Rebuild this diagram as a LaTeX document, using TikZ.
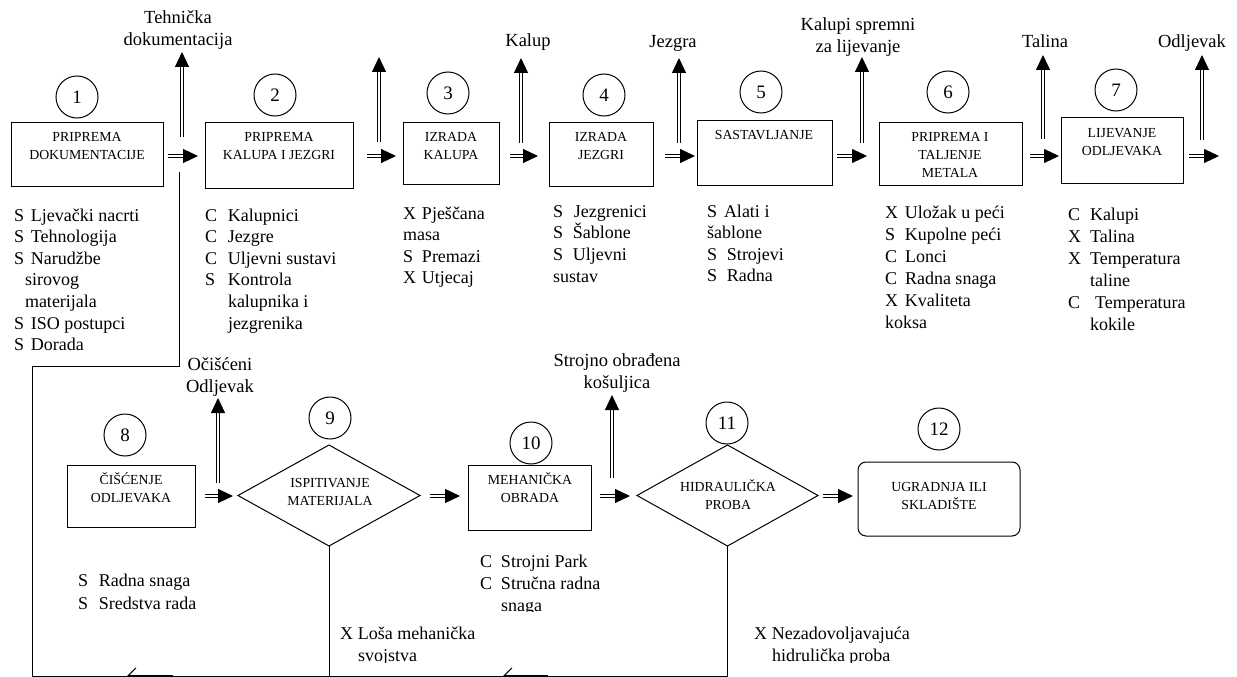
\documentclass[tikz,border=0pt]{standalone}
\usepackage{fontspec}
\setmainfont{Liberation Serif}
\usetikzlibrary{arrows.meta,shapes.geometric,calc}

% left-aligned label of fixed width (width in pt, then the letter)
\newcommand{\mk}[2]{\makebox[#1pt][l]{#2}}
% stacked lines whose baseline is the first line
\newcommand{\ctab}[1]{\begin{tabular}[t]{@{}c@{}}#1\end{tabular}}
\newcommand{\ltab}[1]{\begin{tabular}[t]{@{}l@{}}#1\end{tabular}}

\begin{document}
\begin{tikzpicture}[x=1pt,y=-1pt,
  every node/.style={inner sep=0pt, outer sep=0pt},
  stage/.style={draw, line width=1pt, rectangle},
  decision/.style={draw, line width=1pt, diamond},
  numc/.style={draw, line width=1pt, circle, minimum size=42pt, font=\fontsize{19}{22}\selectfont},
  boxtxt/.style={anchor=base, font=\fontsize{13.8}{18}\selectfont},
  lst/.style={anchor=base west, font=\fontsize{18}{21.6}\selectfont},
  outtxt/.style={anchor=base, font=\fontsize{18.5}{22}\selectfont},
  flow/.style={double, double distance=2.2pt, line width=1pt, -{Triangle[length=15pt,width=14pt]}},
  fb/.style={line width=1pt},
  backtip/.style={line width=2pt, -{Straight Barb[length=8pt,width=16pt,line width=1.2pt]}}
]
\useasboundingbox (0,0) rectangle (1237,677);
\clip (0,0) rectangle (1237,677);

% ---------- upper row of stages ----------
\node[stage, minimum width=152pt, minimum height=64pt] (b1) at (87,154) {};
\node[stage, minimum width=148pt, minimum height=66pt] (b2) at (279,155) {};
\node[stage, minimum width=96pt,  minimum height=62pt] (b3) at (451,153) {};
\node[stage, minimum width=104pt, minimum height=64pt] (b4) at (601,154) {};
\node[stage, minimum width=135pt, minimum height=65pt] (b5) at (764.5,152.5) {};
\node[stage, minimum width=143pt, minimum height=63pt] (b6) at (950.5,153.5) {};
\node[stage, minimum width=122pt, minimum height=66pt] (b7) at (1122,150) {};

\node[boxtxt] (t1) at (87,141.5)   {\ctab{PRIPREMA\\DOKUMENTACIJE}};
\node[boxtxt] (t2) at (279,141.5)  {\ctab{PRIPREMA\\KALUPA I JEZGRI}};
\node[boxtxt] (t3) at (451,141.5)  {\ctab{IZRADA\\KALUPA}};
\node[boxtxt] (t4) at (601,141.5)  {\ctab{IZRADA\\JEZGRI}};
\node[boxtxt] (t5) at (764,139.5)  {\ctab{SASTAVLJANJE}};
\node[boxtxt] (t6) at (950,141.5)  {\ctab{PRIPREMA I\\TALJENJE\\METALA}};
\node[boxtxt] (t7) at (1122,137.5) {\ctab{LIJEVANJE\\ODLJEVAKA}};

\node[numc] (n1) at (77,97)   {1};
\node[numc] (n2) at (275,95)  {2};
\node[numc] (n3) at (448,93)  {3};
\node[numc] (n4) at (604,95)  {4};
\node[numc] (n5) at (761,92)  {5};
\node[numc] (n6) at (948,92)  {6};
\node[numc] (n7) at (1116,90) {7};

% ---------- lower row of stages ----------
\node[stage, minimum width=128pt, minimum height=62pt] (b8) at (131,496) {};
\node[decision, minimum width=182pt, minimum height=101pt] (d9) at (329,495.5) {};
\node[stage, minimum width=123pt, minimum height=65pt] (b10) at (529.5,497.5) {};
\node[decision, minimum width=181pt, minimum height=101pt] (d11) at (727.5,495.5) {};
\node[stage, rounded corners=8pt, minimum width=162pt, minimum height=74pt] (b12) at (939,499) {};

\node[boxtxt] (t8)  at (131,484.5) {\ctab{ČIŠĆENJE\\ODLJEVAKA}};
\node[boxtxt] (t9)  at (330,487.5) {\ctab{ISPITIVANJE\\MATERIJALA}};
\node[boxtxt] (t10) at (530,484.5) {\ctab{MEHANIČKA\\OBRADA}};
\node[boxtxt] (t11) at (728,491.5) {\ctab{HIDRAULIČKA\\PROBA}};
\node[boxtxt] (t12) at (939,491.5) {\ctab{UGRADNJA ILI\\SKLADIŠTE}};

\node[numc] (n8)  at (125,435) {8};
\node[numc] (n9)  at (330,418) {9};
\node[numc] (n10) at (531,443) {10};
\node[numc] (n11) at (727,423) {11};
\node[numc] (n12) at (939,429) {12};

% ---------- material flow between stages ----------
\coordinate (rowT) at (0,156);
\coordinate (rowB) at (0,496);
\draw[flow] ($(b1.east|-rowT)+(5,0)$)  -- ($(b2.west|-rowT)+(-7,0)$);
\draw[flow] ($(b2.east|-rowT)+(14,0)$) -- ($(b3.west|-rowT)+(-7,0)$);
\draw[flow] ($(b3.east|-rowT)+(11,0)$) -- ($(b4.west|-rowT)+(-11,0)$);
\draw[flow] ($(b4.east|-rowT)+(12,0)$) -- ($(b5.west|-rowT)+(-2,0)$);
\draw[flow] ($(b5.east|-rowT)+(5,0)$)  -- ($(b6.west|-rowT)+(-12,0)$);
\draw[flow] ($(b6.east|-rowT)+(8,0)$)  -- ($(b7.west|-rowT)+(-2,0)$);
\coordinate (out7) at (1219,156);
\draw[flow] ($(b7.east|-rowT)+(6,0)$)  -- (out7);

\draw[flow] ($(b8.east|-rowB)+(10,0)$)  -- ($(d9.west|-rowB)+(-5,0)$);
\draw[flow] ($(d9.east|-rowB)+(10,0)$)  -- ($(b10.west|-rowB)+(-8,0)$);
\draw[flow] ($(b10.east|-rowB)+(9,0)$)  -- ($(d11.west|-rowB)+(-7,0)$);
\draw[flow] ($(d11.east|-rowB)+(5,0)$)  -- ($(b12.west|-rowB)+(-5,0)$);

% ---------- outputs of the stages ----------
\coordinate (u1s) at (182,137);  \coordinate (u1e) at (182,52);
\coordinate (u2s) at (379,142);  \coordinate (u2e) at (379,57);
\coordinate (u3s) at (521,143);  \coordinate (u3e) at (521,58);
\coordinate (u4s) at (679,143);  \coordinate (u4e) at (679,58);
\coordinate (u5s) at (862,143);  \coordinate (u5e) at (862,57);
\coordinate (u6s) at (1043,139); \coordinate (u6e) at (1043,55);
\coordinate (u7s) at (1202,140); \coordinate (u7e) at (1202,55);
\coordinate (u8s) at (218,483);  \coordinate (u8e) at (218,398);
\coordinate (u9s) at (612,478);  \coordinate (u9e) at (612,395);
\foreach \u in {1,...,9} { \draw[flow] (u\u s) -- (u\u e); }

\node[outtxt] (o1) at (178,24)   {\ctab{Tehnička\\dokumentacija}};
\node[outtxt] (o3) at (528,47)   {Kalup};
\node[outtxt] (o4) at (673,48)   {Jezgra};
\node[outtxt] (o5) at (858,31)   {\ctab{Kalupi spremni\\za lijevanje}};
\node[outtxt] (o6) at (1045,48)  {Talina};
\node[outtxt] (o7) at (1192,48)  {Odljevak};
\node[outtxt] (o8) at (220,370)  {\ctab{Očišćeni\\Odljevak}};
\node[outtxt] (o9) at (617,366)  {\ctab{Strojno obrađena\\košuljica}};

% ---------- resources of each stage ----------
\node[lst] (s1) at (14,221) {\ltab{\mk{17}{S}Ljevački nacrti\\ \mk{17}{S}Tehnologija\\ \mk{17}{S}Narudžbe\\
  \hspace*{11pt}sirovog\\ \hspace*{11pt}materijala\\ \mk{17}{S}ISO postupci\\ \mk{17}{S}Dorada}};
\node[lst] (s2) at (205,221) {\ltab{\mk{23}{C}Kalupnici\\ \mk{23}{C}Jezgre\\ \mk{23}{C}Uljevni sustavi\\
  \mk{23}{S}Kontrola\\ \hspace*{23pt}kalupnika i\\ \hspace*{23pt}jezgrenika}};
\node[lst] (s3) at (403,219) {\ltab{\mk{19}{X}Pješčana\\ masa\\ \mk{19}{S}Premazi\\ \mk{19}{X}Utjecaj}};
\node[lst] (s4) at (553,217) {\ltab{\mk{21}{S}Jezgrenici\\ \mk{20}{S}Šablone\\ \mk{20}{S}Uljevni\\ sustav}};
\node[lst] (s5) at (707,217) {\ltab{\mk{17}{S}Alati i\\ šablone\\ \mk{20}{S}Strojevi\\ \mk{20}{S}Radna}};
\node[lst, font=\fontsize{18}{22}\selectfont] (s6) at (885,218) {\ltab{\mk{20}{X}Uložak u peći\\ \mk{20}{S}Kupolne peći\\ \mk{20}{C}Lonci\\
  \mk{20}{C}Radna snaga\\ \mk{20}{X}Kvaliteta\\ koksa}};
\node[lst, font=\fontsize{18}{22}\selectfont] (s7) at (1068,220) {\ltab{\mk{22}{C}Kalupi\\ \mk{22}{X}Talina\\ \mk{22}{X}Temperatura\\
  \hspace*{22pt}taline\\ \mk{27}{C}Temperatura\\ \hspace*{22pt}kokile}};
\node[lst, font=\fontsize{18}{23}\selectfont] (s8) at (78,586)
  {\ltab{\mk{21}{S}Radna snaga\\ \mk{21}{S}Sredstva rada}};
\begin{scope}
  \clip (460,540) rectangle (700,611);
  \node[lst, font=\fontsize{18}{22}\selectfont] (s10) at (480,567)
    {\ltab{\mk{21}{C}Strojni Park\\ \mk{21}{C}Stručna radna\\ \hspace*{21pt}snaga}};
\end{scope}
\begin{scope}
  \clip (330,615) rectangle (1000,662);
  \node[lst, font=\fontsize{18}{22}\selectfont] (x9)  at (340,639)
    {\ltab{\mk{18}{X}Loša mehanička\\ \hspace*{18pt}svojstva}};
  \node[lst, font=\fontsize{18}{22}\selectfont] (x11) at (754,639)
    {\ltab{\mk{18}{X}Nezadovoljavajuća\\ \hspace*{18pt}hidrulička proba}};
\end{scope}

% ---------- return path of rejected castings ----------
\coordinate (fbTop)    at (179,172);
\coordinate (fbUp)     at (179,366);
\coordinate (fbLeft)   at (32,366);
\coordinate (fbCorner) at (32,676);
\draw[fb] (d11.south) |- (fbCorner) -- (fbLeft) -- (fbUp) -- (fbTop);
\draw[fb] (d9.south) -- (d9.south |- fbCorner);
\coordinate (r1s) at (173,676); \coordinate (r1e) at (127,676);
\coordinate (r2s) at (548,676); \coordinate (r2e) at (503,676);
\draw[backtip] (r1s) -- (r1e);
\draw[backtip] (r2s) -- (r2e);
\end{tikzpicture}
\end{document}
